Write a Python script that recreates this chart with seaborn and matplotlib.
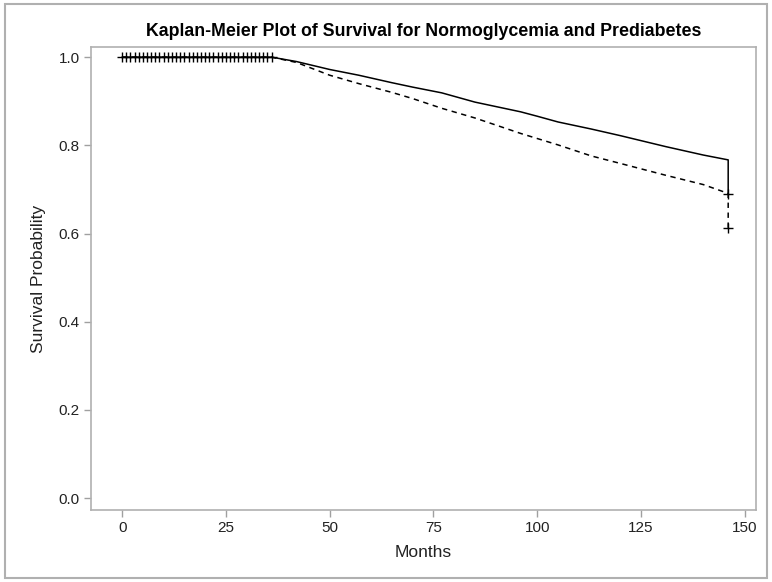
import numpy as np
import pandas as pd
import matplotlib
matplotlib.use("Agg")
import matplotlib.pyplot as plt
import seaborn as sns
from matplotlib.patches import Rectangle

# Data
normo_time = [0, 36, 42, 50, 57, 65, 70, 77, 85, 96, 100, 105, 113, 120, 131, 140, 146, 146]
normo_surv = [1.0, 1.0, 0.990, 0.972, 0.959, 0.942, 0.932, 0.919, 0.898, 0.876, 0.866, 0.853, 0.837, 0.822, 0.797, 0.778, 0.767, 0.690]
pre_time = [0, 36, 42, 50, 57, 65, 70, 77, 85, 96, 105, 113, 120, 131, 140, 146, 146]
pre_surv = [1.0, 1.0, 0.988, 0.959, 0.940, 0.920, 0.906, 0.884, 0.862, 0.827, 0.801, 0.776, 0.759, 0.732, 0.711, 0.691, 0.613]
censor_time = list(range(0, 37)) + [146, 146]
censor_surv = [1.0] * 37 + [0.690, 0.613]
x_ticks = [0, 25, 50, 75, 100, 125, 150]
y_ticks = [0.0, 0.2, 0.4, 0.6, 0.8, 1.0]

sns.set_theme(style="white")
plt.rcParams['font.family'] = ['Liberation Sans', 'DejaVu Sans']

fig = plt.figure(figsize=(7.72, 5.82), dpi=100)
ax = fig.add_axes([91/772, 1 - 510/582, (756 - 91)/772, (510 - 47)/582])

df_n = pd.DataFrame({"t": normo_time, "s": normo_surv})
df_p = pd.DataFrame({"t": pre_time, "s": pre_surv})
sns.lineplot(data=df_n, x="t", y="s", ax=ax, color="black", lw=1.1,
             estimator=None, sort=False)
sns.lineplot(data=df_p, x="t", y="s", ax=ax, color="black", lw=1.1,
             estimator=None, sort=False, linestyle=(0, (3.5, 3)))
sns.scatterplot(x=censor_time, y=censor_surv, ax=ax, marker="+", s=60,
                color="black", linewidth=1.0, zorder=5)

ax.set_xlim(-7.5, 152.7)
ax.set_ylim(-0.027, 1.023)
ax.set_xticks(x_ticks)
ax.set_xticklabels([str(v) for v in x_ticks])
ax.set_yticks(y_ticks)
ax.set_yticklabels([f"{v:.1f}" for v in y_ticks])
ax.tick_params(axis="both", which="both", length=5, width=1, color="#a0a0a0",
               labelsize=11, labelcolor="#222222", direction="out", pad=3,
               bottom=True, left=True)
for sp in ax.spines.values():
    sp.set_color("#b0b0b0")
    sp.set_linewidth(1.2)
ax.set_xlabel("Months", fontsize=12.5, color="#222222", labelpad=7)
ax.set_ylabel("Survival Probability", fontsize=12.5, color="#222222", labelpad=9)

fig.text((91 + 756) / 2 / 772, 1 - 31/582, "Kaplan-Meier Plot of Survival for Normoglycemia and Prediabetes",
         ha="center", va="center", fontsize=12.8, fontweight="bold", color="black")

fig.patches.append(Rectangle((5/772, 4/582), 762/772, 574/582, transform=fig.transFigure,
                             fill=False, edgecolor="#b0b0b0", linewidth=1.5))

fig.savefig("out.png", dpi=100)
